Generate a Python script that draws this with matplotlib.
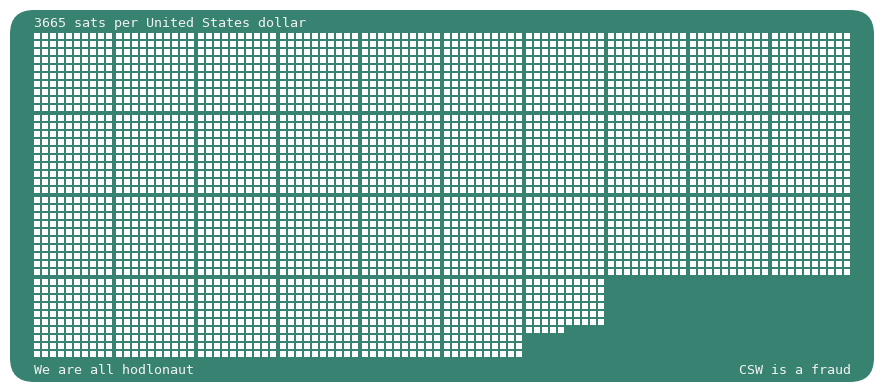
import matplotlib
matplotlib.use("Agg")
import matplotlib.pyplot as plt
from matplotlib.patches import FancyBboxPatch, Rectangle
from matplotlib.collections import PatchCollection

# ── data ──────────────────────────────────────────────────────────────────────
SATS        = 3665
TITLE       = f"{SATS} sats per United States dollar"
FOOT_LEFT   = "We are all hodlonaut"
FOOT_RIGHT  = "CSW is a fraud"

# ── layout (pixels) ───────────────────────────────────────────────────────────
W, H        = 884, 392
BG          = "#388271"
FG          = "#ffffff"
TXT         = "#f2f2f2"
X0, Y0      = 34, 33        # top-left of first square
PITCH       = 8             # square pitch inside a 10x10 block
SQ          = 5.5           # square size
BLOCK       = 82            # block pitch
BLOCKS_ROW  = 10

fig = plt.figure(figsize=(W / 100, H / 100), dpi=100)
ax = fig.add_axes([0, 0, 1, 1])
ax.set_xlim(0, W); ax.set_ylim(H, 0)
ax.axis("off")

ax.add_patch(FancyBboxPatch((10 + 24, 10 + 24), W - 20 - 48, H - 20 - 48,
                            boxstyle="round,pad=24,rounding_size=24",
                            fc=BG, ec="none"))

squares = []
for i in range(SATS):
    b, k = divmod(i, 100)
    brow, bcol = divmod(b, BLOCKS_ROW)
    r, c = divmod(k, 10)
    x = X0 + bcol * BLOCK + c * PITCH
    y = Y0 + brow * BLOCK + r * PITCH
    squares.append(Rectangle((x, y), SQ, SQ))
ax.add_collection(PatchCollection(squares, fc=FG, ec="none"))

font = dict(family="DejaVu Sans Mono", fontsize=9.6, color=TXT)
ax.text(X0, 26.5, TITLE, ha="left", va="baseline", **font)
ax.text(X0, 374, FOOT_LEFT, ha="left", va="baseline", **font)
ax.text(851, 374, FOOT_RIGHT, ha="right", va="baseline", **font)

fig.savefig("out.png", dpi=100, facecolor="white")
